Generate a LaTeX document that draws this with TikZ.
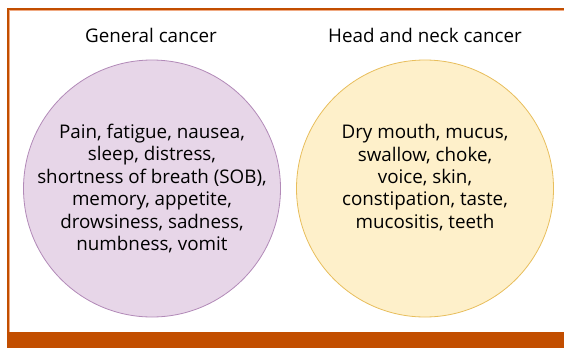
\documentclass[tikz,border=0pt]{standalone}
\usepackage{fontspec}
\setmainfont{Open Sans}
\usetikzlibrary{positioning}
\definecolor{barorange}{RGB}{194,78,0}
\definecolor{lineorange}{RGB}{240,170,130}
\definecolor{softpurple}{RGB}{231,214,232}
\definecolor{edgepurple}{RGB}{178,138,184}
\definecolor{softyellow}{RGB}{254,240,202}
\definecolor{edgeyellow}{RGB}{232,190,92}

\begin{document}
\begin{tikzpicture}[x=1pt, y=-1pt,
    every node/.style={font=\fontsize{18.8}{22.4}\selectfont},
    setcircle/.style={circle, draw, line width=0.8pt, minimum size=257pt, inner sep=0pt},
    listtext/.style={align=center, inner sep=0pt}]
    \useasboundingbox (0,0) rectangle (564,348);
    % frame
    \fill[barorange] (7,332) rectangle (564,348);
    \draw[lineorange, line width=1pt] (9.5,332) -- (9.5,10.5) -- (564,10.5);
    \draw[barorange, line width=2pt] (8,332) -- (8,9) -- (564,9);
    % the two sets
    \node[setcircle, draw=edgepurple, fill=softpurple] (gen) at (152,188.5) {};
    \node[setcircle, draw=edgeyellow, fill=softyellow] (hnc) at (425,188.5) {};
    \node (gentitle) at (151,35) {General cancer};
    \node (hnctitle) at (425,35) {Head and neck cancer};
    \node[listtext] (genlist) at (gen) {Pain, fatigue, nausea,\\ sleep, distress,\\ shortness of breath (SOB),\\ memory, appetite,\\ drowsiness, sadness,\\ numbness, vomit};
    \node[listtext] (hnclist) at ([yshift=11pt]hnc) {Dry mouth, mucus,\\ swallow, choke,\\ voice, skin,\\ constipation, taste,\\ mucositis, teeth};
  \end{tikzpicture}
\end{document}
